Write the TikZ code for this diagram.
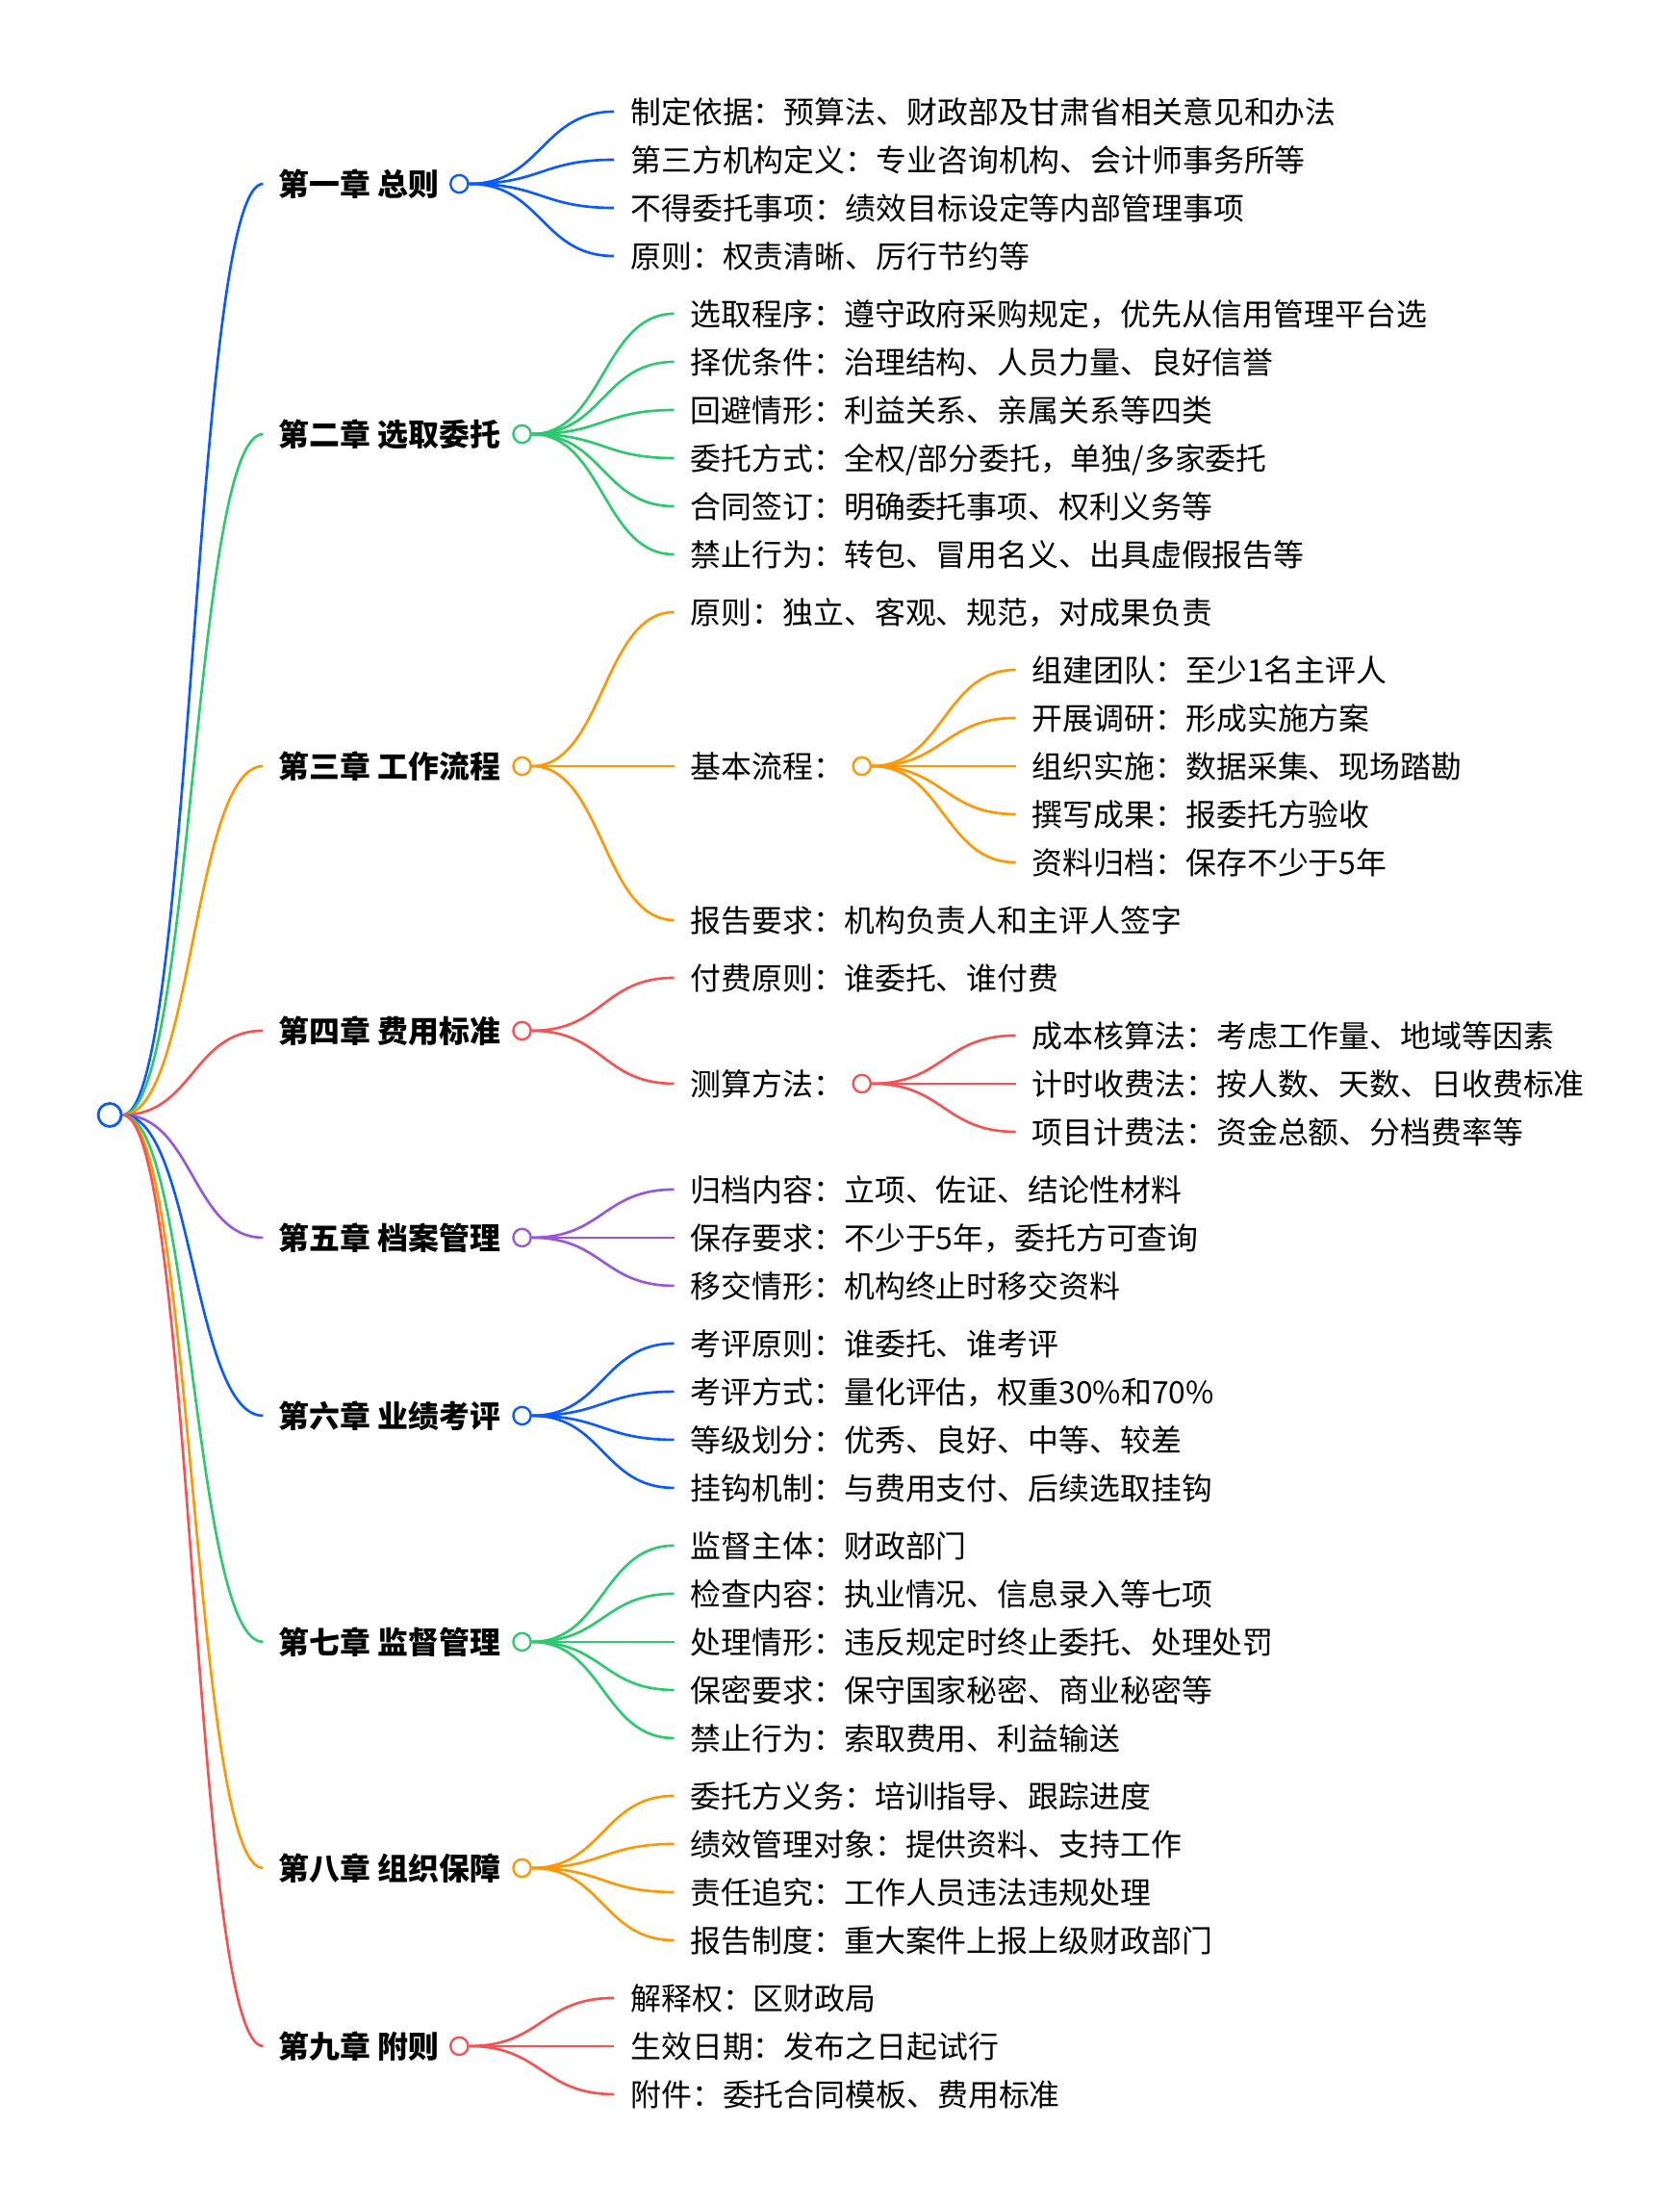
\documentclass[tikz,border=0pt]{standalone}
\usepackage{fontspec}
\setmainfont{Noto Sans CJK SC}
\usetikzlibrary{calc}
\definecolor{cblue}{RGB}{10,90,255}
\definecolor{cgreen}{RGB}{44,202,110}
\definecolor{corange}{RGB}{255,152,0}
\definecolor{cred}{RGB}{246,82,82}
\definecolor{cpurple}{RGB}{150,86,224}
\pgfdeclarelayer{bg}
\pgfsetlayers{bg,main}
\tikzset{
  lk/.style={line width=1.8pt, draw=#1},
  chap/.style={anchor=west, inner sep=0pt, text height=19.2pt, text depth=2.6pt, font=\fontsize{21.8}{26}\selectfont\bfseries},
  leaf/.style={anchor=west, inner sep=0pt, text height=19.2pt, text depth=2.6pt, font=\fontsize{21.8}{26}\selectfont},
  dot/.style={circle, draw=#1, fill=white, line width=1.6pt, minimum size=12.5pt, inner sep=0pt},
}
\newcommand\mmlink[3]{%
  \path (#2) coordinate (mmA) (#3) coordinate (mmB) ($(mmA)!0.5!(mmB)$) coordinate (mmM);
  \begin{pgfonlayer}{bg}
  \draw[lk=#1] (mmA) .. controls (mmM |- mmA) and (mmM |- mmB) .. (mmB);
  \end{pgfonlayer}}
\begin{document}
\begin{tikzpicture}[x=1pt,y=-1pt]
\useasboundingbox (0,0) rectangle (1193.9,1565.9);
\begin{pgfonlayer}{bg}
\fill[white] (0,0) rectangle (1193.9,1565.9);
\end{pgfonlayer}
% root
\node[dot=cblue, minimum size=16.4pt, line width=1.9pt] (root) at (78,792.15) {};
% chapters
\node[chap] (k1) at (198,130.6) {第一章 总则};
\node[chap] (k2) at (198,308.4) {第二章 选取委托};
\node[chap] (k3) at (198,544.3) {第三章 工作流程};
\node[chap] (k4) at (198,732.3) {第四章 费用标准};
\node[chap] (k5) at (198,879.3) {第五章 档案管理};
\node[chap] (k6) at (198,1005.8) {第六章 业绩考评};
\node[chap] (k7) at (198,1166.5) {第七章 监督管理};
\node[chap] (k8) at (198,1327.2) {第八章 组织保障};
\node[chap] (k9) at (198,1453.7) {第九章 附则};
\node[dot=cblue] (o1) at (326.4,130.6) {};
\node[dot=cgreen] (o2) at (371,308.4) {};
\node[dot=corange] (o3) at (371,544.3) {};
\node[dot=cred] (o4) at (371,732.3) {};
\node[dot=cpurple] (o5) at (371,879.3) {};
\node[dot=cblue] (o6) at (371,1005.8) {};
\node[dot=cgreen] (o7) at (371,1166.5) {};
\node[dot=corange] (o8) at (371,1327.2) {};
\node[dot=cred] (o9) at (326.4,1453.7) {};
\mmlink{cblue}{root.east}{[xshift=-11pt]k1.west}
\mmlink{cgreen}{root.east}{[xshift=-11pt]k2.west}
\mmlink{corange}{root.east}{[xshift=-11pt]k3.west}
\mmlink{cred}{root.east}{[xshift=-11pt]k4.west}
\mmlink{cpurple}{root.east}{[xshift=-11pt]k5.west}
\mmlink{cblue}{root.east}{[xshift=-11pt]k6.west}
\mmlink{cgreen}{root.east}{[xshift=-11pt]k7.west}
\mmlink{corange}{root.east}{[xshift=-11pt]k8.west}
\mmlink{cred}{root.east}{[xshift=-11pt]k9.west}
% chapter 1
\node[leaf] (a1) at (448,79.3) {制定依据：预算法、财政部及甘肃省相关意见和办法};
\node[leaf] (a2) at (448,113.5) {第三方机构定义：专业咨询机构、会计师事务所等};
\node[leaf] (a3) at (448,147.7) {不得委托事项：绩效目标设定等内部管理事项};
\node[leaf] (a4) at (448,181.9) {原则：权责清晰、厉行节约等};
\foreach \n in {a1,a2,a3,a4}{\mmlink{cblue}{o1.east}{[xshift=-11.6pt]\n.west}}
% chapter 2
\node[leaf] (b1) at (490.7,222.9) {选取程序：遵守政府采购规定，优先从信用管理平台选};
\node[leaf] (b2) at (490.7,257.1) {择优条件：治理结构、人员力量、良好信誉};
\node[leaf] (b3) at (490.7,291.3) {回避情形：利益关系、亲属关系等四类};
\node[leaf] (b4) at (490.7,325.5) {委托方式：全权/部分委托，单独/多家委托};
\node[leaf] (b5) at (490.7,359.7) {合同签订：明确委托事项、权利义务等};
\node[leaf] (b6) at (490.7,393.9) {禁止行为：转包、冒用名义、出具虚假报告等};
\foreach \n in {b1,b2,b3,b4,b5,b6}{\mmlink{cgreen}{o2.east}{[xshift=-11.6pt]\n.west}}
% chapter 3
\node[leaf] (c1) at (490.7,434.9) {原则：独立、客观、规范，对成果负责};
\node[leaf] (c2) at (490.7,544.3) {基本流程：};
\node[leaf] (c3) at (490.7,653.7) {报告要求：机构负责人和主评人签字};
\foreach \n in {c1,c2,c3}{\mmlink{corange}{o3.east}{[xshift=-11.6pt]\n.west}}
\node[dot=corange] (s3) at (612.5,544.3) {};
\node[leaf] (d1) at (733.5,475.9) {组建团队：至少1名主评人};
\node[leaf] (d2) at (733.5,510.1) {开展调研：形成实施方案};
\node[leaf] (d3) at (733.5,544.3) {组织实施：数据采集、现场踏勘};
\node[leaf] (d4) at (733.5,578.5) {撰写成果：报委托方验收};
\node[leaf] (d5) at (733.5,612.7) {资料归档：保存不少于5年};
\foreach \n in {d1,d2,d3,d4,d5}{\mmlink{corange}{s3.east}{[xshift=-11.6pt]\n.west}}
% chapter 4
\node[leaf] (e1) at (490.7,694.7) {付费原则：谁委托、谁付费};
\node[leaf] (e2) at (490.7,769.9) {测算方法：};
\foreach \n in {e1,e2}{\mmlink{cred}{o4.east}{[xshift=-11.6pt]\n.west}}
\node[dot=cred] (s4) at (612.5,769.9) {};
\node[leaf] (f1) at (733.5,735.7) {成本核算法：考虑工作量、地域等因素};
\node[leaf] (f2) at (733.5,769.9) {计时收费法：按人数、天数、日收费标准};
\node[leaf] (f3) at (733.5,804.1) {项目计费法：资金总额、分档费率等};
\foreach \n in {f1,f2,f3}{\mmlink{cred}{s4.east}{[xshift=-11.6pt]\n.west}}
% chapter 5
\node[leaf] (g1) at (490.7,845.1) {归档内容：立项、佐证、结论性材料};
\node[leaf] (g2) at (490.7,879.3) {保存要求：不少于5年，委托方可查询};
\node[leaf] (g3) at (490.7,913.5) {移交情形：机构终止时移交资料};
\foreach \n in {g1,g2,g3}{\mmlink{cpurple}{o5.east}{[xshift=-11.6pt]\n.west}}
% chapter 6
\node[leaf] (h1) at (490.7,954.5) {考评原则：谁委托、谁考评};
\node[leaf] (h2) at (490.7,988.7) {考评方式：量化评估，权重30\%和70\%};
\node[leaf] (h3) at (490.7,1022.9) {等级划分：优秀、良好、中等、较差};
\node[leaf] (h4) at (490.7,1057.1) {挂钩机制：与费用支付、后续选取挂钩};
\foreach \n in {h1,h2,h3,h4}{\mmlink{cblue}{o6.east}{[xshift=-11.6pt]\n.west}}
% chapter 7
\node[leaf] (i1) at (490.7,1098.1) {监督主体：财政部门};
\node[leaf] (i2) at (490.7,1132.3) {检查内容：执业情况、信息录入等七项};
\node[leaf] (i3) at (490.7,1166.5) {处理情形：违反规定时终止委托、处理处罚};
\node[leaf] (i4) at (490.7,1200.7) {保密要求：保守国家秘密、商业秘密等};
\node[leaf] (i5) at (490.7,1234.9) {禁止行为：索取费用、利益输送};
\foreach \n in {i1,i2,i3,i4,i5}{\mmlink{cgreen}{o7.east}{[xshift=-11.6pt]\n.west}}
% chapter 8
\node[leaf] (j1) at (490.7,1275.9) {委托方义务：培训指导、跟踪进度};
\node[leaf] (j2) at (490.7,1310.1) {绩效管理对象：提供资料、支持工作};
\node[leaf] (j3) at (490.7,1344.3) {责任追究：工作人员违法违规处理};
\node[leaf] (j4) at (490.7,1378.5) {报告制度：重大案件上报上级财政部门};
\foreach \n in {j1,j2,j3,j4}{\mmlink{corange}{o8.east}{[xshift=-11.6pt]\n.west}}
% chapter 9
\node[leaf] (m1) at (448,1419.5) {解释权：区财政局};
\node[leaf] (m2) at (448,1453.7) {生效日期：发布之日起试行};
\node[leaf] (m3) at (448,1487.9) {附件：委托合同模板、费用标准};
\foreach \n in {m1,m2,m3}{\mmlink{cred}{o9.east}{[xshift=-11.6pt]\n.west}}
\end{tikzpicture}
\end{document}
